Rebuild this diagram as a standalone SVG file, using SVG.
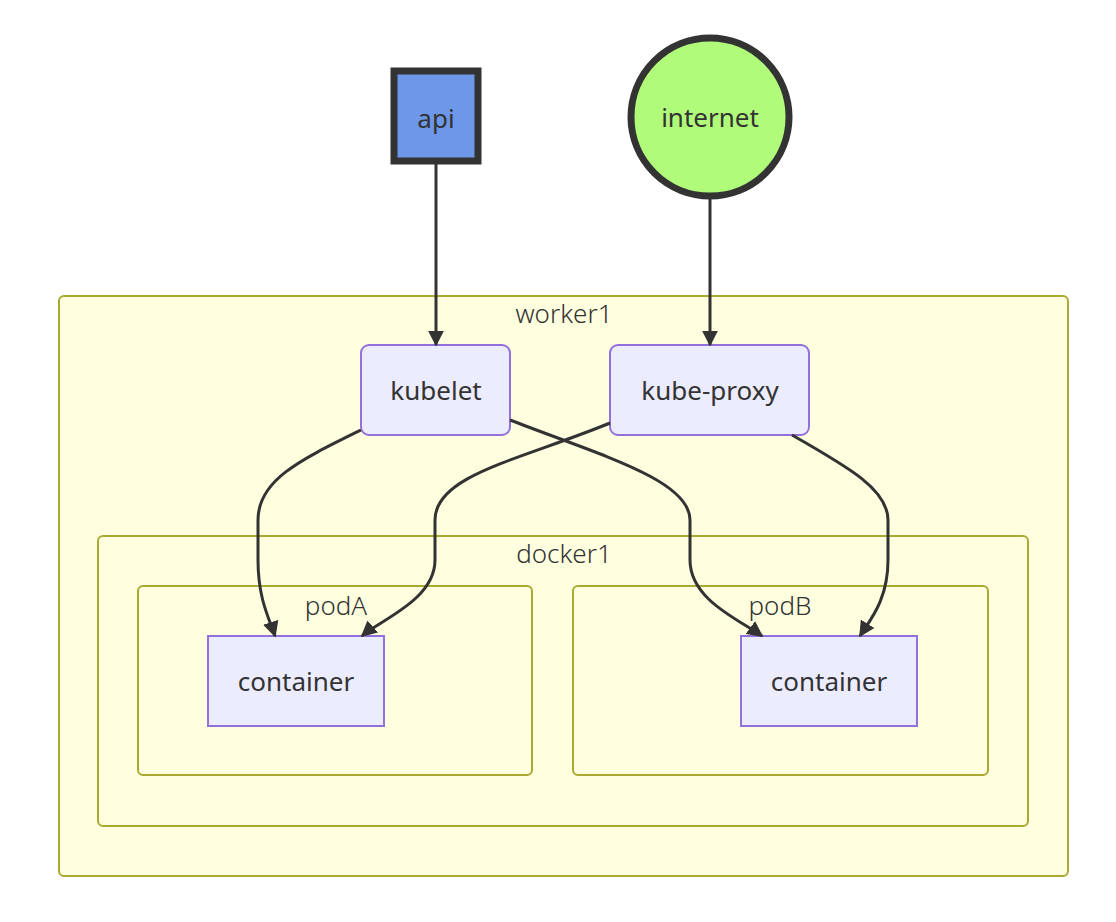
<svg xmlns="http://www.w3.org/2000/svg" width="1116" height="922" viewBox="0 0 1116 922">
<style>
.cl{fill:#ffffe0;stroke:#aaaa33;stroke-width:2}
.nd{fill:#ececff;stroke:#9370db;stroke-width:2}
.t{font-family:"Noto Sans","Open Sans",sans-serif;font-size:26px;fill:#333;text-anchor:middle;dominant-baseline:central}
.ct{font-family:"Noto Sans","Open Sans",sans-serif;font-size:26px;fill:#333;text-anchor:middle;dominant-baseline:central;font-weight:300}
.e{fill:none;stroke:#333;stroke-width:3}
</style>
<defs><marker id="a" viewBox="0 0 10 10" refX="9" refY="5" markerWidth="6" markerHeight="6" orient="auto" markerUnits="userSpaceOnUse" ><path d="M0,0L10,5L0,10z" fill="#333"/></marker>
<marker id="b" viewBox="0 0 10 10" refX="9" refY="5" markerWidth="16" markerHeight="16" orient="auto" markerUnits="userSpaceOnUse"><path d="M0,0L10,5L0,10z" fill="#333"/></marker></defs>
<rect width="1116" height="922" fill="#fff"/>
<g id="worker1"><rect class="cl" x="59" y="296" width="1009" height="580" rx="5"/><text class="ct" x="564" y="313">worker1</text></g>
<g id="docker1"><rect class="cl" x="98" y="536" width="930" height="290" rx="5"/><text class="ct" x="564" y="553">docker1</text></g>
<g id="podA"><rect class="cl" x="138" y="586" width="394" height="189" rx="5"/><text class="ct" x="336" y="605">podA</text></g>
<g id="podB"><rect class="cl" x="573" y="586" width="415" height="189" rx="5"/><text class="ct" x="780" y="605">podB</text></g>
<g id="api"><rect x="394" y="71" width="84" height="90" fill="#6d97e8" stroke="#333" stroke-width="7"/><text class="t" x="436" y="118">api</text></g>
<g id="internet"><circle cx="710" cy="117" r="79" fill="#b0fc7a" stroke="#333" stroke-width="7"/><text class="t" x="710" y="117">internet</text></g>
<g id="kubelet"><rect class="nd" x="361" y="345" width="149" height="90" rx="8"/><text class="t" x="436" y="390">kubelet</text></g>
<g id="kube-proxy"><rect class="nd" x="610" y="345" width="199" height="90" rx="8"/><text class="t" x="710" y="390">kube-proxy</text></g>
<g id="containerA"><rect class="nd" x="208" y="636" width="176" height="90"/><text class="t" x="296" y="681">container</text></g>
<g id="containerB"><rect class="nd" x="741" y="636" width="176" height="90"/><text class="t" x="829" y="681">container</text></g>
<g id="edges">
<path class="e" marker-end="url(#b)" d="M436,162L436,345"/>
<path class="e" marker-end="url(#b)" d="M710,197L710,345"/>
<path class="e" marker-end="url(#b)" d="M361,430C300,460 258,480 258,520L258,560C258,600 270,620 275,636"/>
<path class="e" marker-end="url(#b)" d="M510,420C600,455 690,480 690,520L690,560C690,600 740,620 762,636"/>
<path class="e" marker-end="url(#b)" d="M610,423C520,460 435,475 435,520L435,560C435,600 380,620 362,636"/>
<path class="e" marker-end="url(#b)" d="M792,435C850,468 888,490 888,520L888,560C888,600 870,620 860,636"/>
</g>
</svg>
